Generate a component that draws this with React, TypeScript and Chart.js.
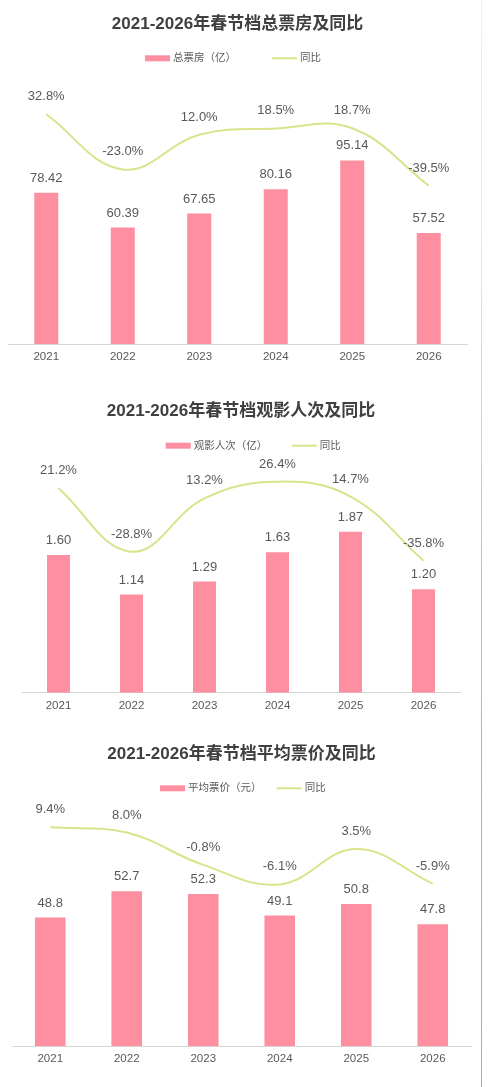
import React, { useEffect, useRef } from 'react';
import { Chart, registerables } from 'chart.js';

Chart.register(...registerables);

const FONT = '"Liberation Sans", "Noto Sans CJK SC", sans-serif';

const years = ['2021', '2022', '2023', '2024', '2025', '2026'];

const boxOffice = [78.42, 60.39, 67.65, 80.16, 95.14, 57.52];
const boxOfficeYoY = [32.8, -23.0, 12.0, 18.5, 18.7, -39.5];

const admissions = [1.6, 1.14, 1.29, 1.63, 1.87, 1.2];
const admissionsYoY = [21.2, -28.8, 13.2, 26.4, 14.7, -35.8];

const avgPrice = [48.8, 52.7, 52.3, 49.1, 50.8, 47.8];
const avgPriceYoY = [9.4, 8.0, -0.8, -6.1, 3.5, -5.9];

const BAR_COLOR = '#fe8fa0';
const LINE_COLOR = '#dbe28c';
const TEXT_COLOR = '#595959';

const valueLabels = {
  id: 'valueLabels',
  afterDatasetsDraw(chart: any, _args: any, opts: any) {
    const ctx = chart.ctx;
    ctx.save();
    ctx.font = `13px ${FONT}`;
    ctx.fillStyle = TEXT_COLOR;
    ctx.textAlign = 'center';
    ctx.textBaseline = 'middle';
    chart.data.datasets.forEach((ds: any, i: number) => {
      const meta = chart.getDatasetMeta(i);
      meta.data.forEach((el: any, j: number) => {
        const v = ds.data[j] as number;
        const isLine = ds.type === 'line';
        const text = isLine ? v.toFixed(1) + '%' : v.toFixed(opts.decimals);
        const p = el.getProps(['x', 'y'], true);
        ctx.fillText(text, p.x, p.y - (isLine ? 17.5 : 14.5));
      });
    });
    ctx.restore();
  },
};

const swatchLegend = {
  id: 'swatchLegend',
  afterDraw(chart: any, _args: any, opts: any) {
    const ctx = chart.ctx;
    ctx.save();
    ctx.font = `10.5px ${FONT}`;
    ctx.textBaseline = 'middle';
    ctx.textAlign = 'left';
    chart.data.datasets.forEach((ds: any, i: number) => {
      const x = opts.starts[i];
      const y = opts.y;
      if (ds.type === 'line') {
        ctx.strokeStyle = ds.borderColor;
        ctx.lineWidth = 2;
        ctx.beginPath();
        ctx.moveTo(x, y);
        ctx.lineTo(x + 25, y);
        ctx.stroke();
      } else {
        ctx.fillStyle = ds.backgroundColor;
        ctx.fillRect(x, y - 3, 25, 6);
      }
      ctx.fillStyle = TEXT_COLOR;
      ctx.fillText(ds.label, x + 28, y);
    });
    ctx.restore();
  },
};

type Spec = {
  title: string;
  barLabel: string;
  bars: number[];
  yoy: number[];
  top: number;
  height: number;
  pad: { left: number; right: number; bottom: number };
  titlePad: { top: number; bottom: number };
  y: { min: number; max: number };
  y2: { min: number; max: number };
  barPct: number;
  decimals: number;
  legendStarts: number[];
  legendY: number;
};

const specs: Spec[] = [
  {
    title: '2021-2026年春节档总票房及同比',
    barLabel: '总票房（亿）',
    bars: boxOffice,
    yoy: boxOfficeYoY,
    top: 0,
    height: 372,
    pad: { left: 8, right: 22, bottom: 2.2 },
    titlePad: { top: 13.8, bottom: 61.8 },
    y: { min: 0, max: 128.5 },
    y2: { min: -199.7, max: 51.3 },
    barPct: 0.314,
    decimals: 2,
    legendStarts: [145, 272],
    legendY: 58.3,
  },
  {
    title: '2021-2026年春节档观影人次及同比',
    barLabel: '观影人次（亿）',
    bars: admissions,
    yoy: admissionsYoY,
    top: 380,
    height: 345,
    pad: { left: 22, right: 29, bottom: 6.5 },
    titlePad: { top: 21.5, bottom: 58.1 },
    y: { min: 0, max: 2.47 },
    y2: { min: -139.8, max: 27.7 },
    barPct: 0.315,
    decimals: 2,
    legendStarts: [165.7, 291.7],
    legendY: 65.7,
  },
  {
    title: '2021-2026年春节档平均票价及同比',
    barLabel: '平均票价（元）',
    bars: avgPrice,
    yoy: avgPriceYoY,
    top: 730,
    height: 357,
    pad: { left: 12, right: 18, bottom: 15.2 },
    titlePad: { top: 13.8, bottom: 61.8 },
    y: { min: 29.73, max: 62.4 },
    y2: { min: -50, max: 9.76 },
    barPct: 0.4,
    decimals: 1,
    legendStarts: [160, 276.7],
    legendY: 58.3,
  },
];

function ComboChart({ spec }: { spec: Spec }) {
  const ref = useRef<HTMLCanvasElement | null>(null);
  useEffect(() => {
    if (!ref.current) return;
    const chart = new Chart(ref.current, {
      type: 'bar',
      data: {
        labels: years,
        datasets: [
          {
            type: 'bar',
            label: spec.barLabel,
            data: spec.bars,
            backgroundColor: BAR_COLOR,
            borderWidth: 0,
            yAxisID: 'y',
            categoryPercentage: 1,
            barPercentage: spec.barPct,
            order: 1,
          } as any,
          {
            type: 'line',
            label: '同比',
            data: spec.yoy,
            borderColor: LINE_COLOR,
            backgroundColor: LINE_COLOR,
            borderWidth: 2,
            tension: 0.4,
            pointRadius: 0,
            pointHoverRadius: 0,
            fill: false,
            clip: false,
            yAxisID: 'y2',
            order: 0,
          } as any,
        ],
      },
      options: {
        responsive: false,
        animation: false,
        devicePixelRatio: window.devicePixelRatio || 1,
        layout: { padding: { top: 0, ...spec.pad } },
        font: { family: FONT },
        plugins: {
          legend: { display: false },
          tooltip: { enabled: false },
          title: {
            display: true,
            text: spec.title,
            color: '#404040',
            font: { family: FONT, size: 17, weight: 'bold', lineHeight: 1.2 },
            padding: spec.titlePad,
          },
          valueLabels: { decimals: spec.decimals },
          swatchLegend: { starts: spec.legendStarts, y: spec.legendY },
        } as any,
        scales: {
          x: {
            grid: { display: false, drawTicks: false },
            border: { display: true, color: '#d6d6d6', width: 1 },
            ticks: {
              color: TEXT_COLOR,
              font: { family: FONT, size: 11.5, lineHeight: 1.2 },
              padding: 6,
              maxRotation: 0,
              autoSkip: false,
            },
          },
          y: { display: false, min: spec.y.min, max: spec.y.max },
          y2: { display: false, position: 'right', min: spec.y2.min, max: spec.y2.max },
        },
      } as any,
      plugins: [valueLabels, swatchLegend],
    });
    return () => chart.destroy();
  }, [spec]);
  return (
    <canvas
      ref={ref}
      width={489}
      height={spec.height}
      style={{ position: 'absolute', left: 0, top: spec.top, width: 489, height: spec.height }}
    />
  );
}

export default function App() {
  return (
    <div
      style={{
        position: 'absolute',
        left: 0,
        top: 0,
        width: 489,
        height: 1087,
        background: '#ffffff',
        overflow: 'hidden',
      }}
    >
      {specs.map((s, i) => (
        <ComboChart key={i} spec={s} />
      ))}
      <div
        style={{
          position: 'absolute',
          left: 481,
          top: 0,
          width: 1,
          height: 1087,
          background: 'linear-gradient(to bottom, rgba(225,225,230,0.5) 0%, rgba(240,180,180,0.4) 20%, rgba(236,120,120,0.7) 60%, rgba(236,110,110,0.8) 100%)',
        }}
      />
    </div>
  );
}
